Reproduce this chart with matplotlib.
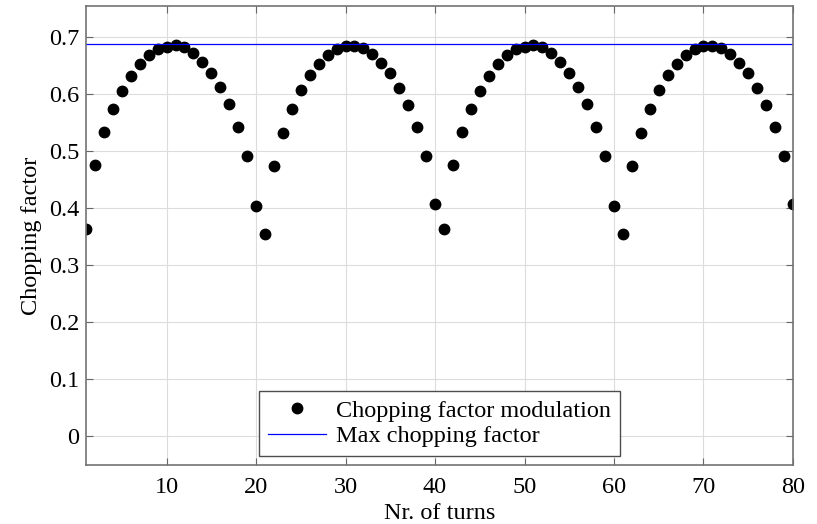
import numpy as np
import matplotlib
matplotlib.use("Agg")
from matplotlib import pyplot as plt

plt.rcParams['font.family'] = ['Liberation Serif', 'DejaVu Serif']

# chopping factor, one list per lobe (turns 1-20, 21-40, ...)
lobe_a = [0.364, 0.475, 0.533, 0.574, 0.606, 0.632, 0.653, 0.669, 0.678, 0.683,
          0.685, 0.682, 0.671, 0.656, 0.637, 0.612, 0.582, 0.542, 0.491, 0.404]
lobe_b = [0.355, 0.474, 0.532, 0.574, 0.607, 0.633, 0.653, 0.669, 0.679, 0.684,
          0.684, 0.680, 0.670, 0.655, 0.636, 0.611, 0.581, 0.542, 0.491, 0.407]
chop = lobe_a + lobe_b + lobe_a + lobe_b
turns = np.arange(1, len(chop) + 1)
max_chop = 0.6867

xticks = [10, 20, 30, 40, 50, 60, 70, 80]
yticks = [0, 0.1, 0.2, 0.3, 0.4, 0.5, 0.6, 0.7]

fs = 17.5
fig = plt.figure(figsize=(8.17, 5.24), dpi=100)
ax = fig.add_axes([0.1053, 0.1126, 0.8653, 0.8759])

ax.plot(turns, chop, 'o', color='black', markersize=7.5, label='Chopping factor modulation')
ax.axhline(max_chop, color='#0000ff', lw=0.9, label='Max chopping factor')

ax.set_xlim(1, 80)
ax.set_ylim(-0.05, 0.754)
ax.set_xticks(xticks)
ax.set_yticks(yticks)
ax.set_yticklabels(['0', '0.1', '0.2', '0.3', '0.4', '0.5', '0.6', '0.7'])
ax.grid(True, color='#dcdcdc', lw=0.8)
ax.set_axisbelow(True)

ax.tick_params(direction='in', top=True, right=True, labelsize=fs, length=5,
               color='0.4', pad=5)
ax.tick_params(axis='x', pad=9)
for s in ax.spines.values():
    s.set_color('0.45')
    s.set_linewidth(1.2)

ax.set_xlabel('Nr. of turns', fontsize=fs, labelpad=3)
ax.set_ylabel('Chopping factor', fontsize=fs, labelpad=5)

leg = ax.legend(loc='lower center', fontsize=fs, fancybox=False, framealpha=1,
                edgecolor='0.3', borderpad=0.35, labelspacing=0.15, handlelength=2.4,
                handletextpad=0.4, borderaxespad=0, bbox_to_anchor=(0.5, 0.02))
leg.get_frame().set_linewidth(1.0)

fig.savefig('out.png', dpi=100)
